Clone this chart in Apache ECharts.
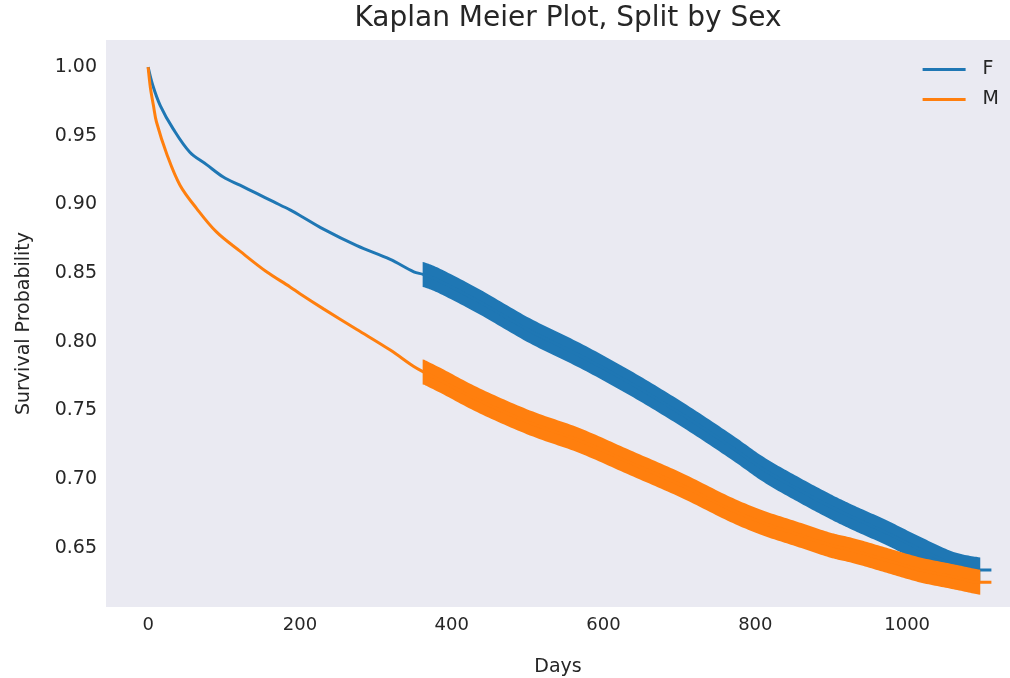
<!DOCTYPE html>
<html>
<head>
<meta charset="utf-8">
<script src="https://cdn.jsdelivr.net/npm/echarts@6/dist/echarts.min.js"></script>
<style>html,body{margin:0;padding:0;background:#fff;}#chart{width:1010px;height:678px;}</style>
</head>
<body>
<div id="chart"></div>
<script>
const daysF = [0,6,16,33,55,77,99,121,143,165,187,200,231,275,319,350,363,385,437,503,569,635,701,767,811,855,899,929,973,1017,1061,1095,1111];
const survF = [1.0,0.987,0.972,0.955,0.938,0.929,0.920,0.914,0.908,0.902,0.896,0.892,0.882,0.870,0.860,0.851,0.849,0.844,0.829,0.808,0.790,0.770,0.748,0.724,0.707,0.693,0.680,0.672,0.661,0.649,0.638,0.634,0.634];
const daysM = [0,3,7,11,25,42,64,90,121,156,187,200,231,275,319,350,363,385,437,503,569,635,701,767,811,855,899,929,973,1017,1061,1095,1111];
const survM = [1.0,0.985,0.972,0.960,0.936,0.914,0.897,0.880,0.866,0.851,0.840,0.835,0.824,0.809,0.794,0.782,0.778,0.772,0.757,0.741,0.728,0.712,0.696,0.678,0.668,0.660,0.652,0.648,0.641,0.634,0.629,0.625,0.625];
const censorStart = 363;
const censorEnd = 1095;
const xTicks = [0,200,400,600,800,1000];
const yTicks = [0.65,0.70,0.75,0.80,0.85,0.90,0.95,1.00];
const seriesNames = ['F','M'];
const colors = ['#1f77b4','#ff7f0e'];

const pairs = (d, v) => d.map((x, i) => [x, v[i]]);
const bandPts = (d, v) => pairs(d, v).filter(p => p[0] >= censorStart && p[0] <= censorEnd);

// Catmull-Rom smoothing in pixel space for the band outline
function smoothPath(c) {
  const out = [];
  const n = c.length;
  for (let i = 0; i < n - 1; i++) {
    const p0 = c[Math.max(0, i - 1)], p1 = c[i], p2 = c[i + 1], p3 = c[Math.min(n - 1, i + 2)];
    const steps = 16;
    for (let s = 0; s < steps; s++) {
      const t = s / steps, t2 = t * t, t3 = t2 * t;
      const f = (a, b, cc, d) => 0.5 * ((2 * b) + (-a + cc) * t + (2 * a - 5 * b + 4 * cc - d) * t2 + (-a + 3 * b - 3 * cc + d) * t3);
      out.push([f(p0[0], p1[0], p2[0], p3[0]), f(p0[1], p1[1], p2[1], p3[1])]);
    }
  }
  out.push(c[n - 1]);
  return out;
}

function bandSeries(name, pts, color, z) {
  return {
    type: 'custom', name: name, silent: true, z: z,
    data: [[pts[0][0], pts[0][1]]],
    renderItem: function (params, api) {
      const half = 12.5;
      const c = smoothPath(pts.map(p => api.coord(p)));
      const top = c.map(q => [q[0], q[1] - half]);
      const bot = c.map(q => [q[0], q[1] + half]).reverse();
      top[0][0] -= 1; bot[bot.length - 1][0] -= 1;
      top[top.length - 1][0] += 1; bot[0][0] += 1;
      return { type: 'polygon', shape: { points: top.concat(bot) }, style: { fill: color } };
    }
  };
}

const FONT = 'DejaVu Sans';
const TXT = '#262626';
const chart = echarts.init(document.getElementById('chart'), null, { renderer: 'canvas' });
chart.setOption({
  animation: false,
  backgroundColor: '#ffffff',
  title: {
    text: 'Kaplan Meier Plot, Split by Sex',
    left: 563, top: 0, textAlign: 'center',
    textStyle: { fontFamily: FONT, fontSize: 28, fontWeight: 'normal', color: TXT }
  },
  legend: {
    data: seriesNames, orient: 'vertical', right: 6, top: 55,
    icon: 'rect', itemWidth: 43, itemHeight: 3, itemGap: 11,
    textStyle: { fontFamily: FONT, fontSize: 19, color: TXT, padding: [0, 0, 0, 12] }
  },
  grid: { left: 106, top: 40, right: 0, height: 567, show: true, backgroundColor: '#EAEAF2', borderWidth: 0,
    containLabel: false, outerBoundsMode: 'none' },
  xAxis: {
    type: 'value', min: -55.5, max: 1135.5,
    name: 'Days', nameLocation: 'middle', nameGap: 51,
    nameTextStyle: { fontFamily: FONT, fontSize: 19, color: TXT },
    axisLine: { show: false }, axisTick: { show: false }, splitLine: { show: false },
    axisLabel: { customValues: xTicks, fontFamily: FONT, fontSize: 18, color: TXT, margin: 9,
      formatter: v => String(v) }
  },
  yAxis: {
    type: 'value', min: 0.607, max: 1.0197,
    name: 'Survival Probability', nameLocation: 'middle', nameGap: 72, nameRotate: 90,
    nameTextStyle: { fontFamily: FONT, fontSize: 19, color: TXT },
    axisLine: { show: false }, axisTick: { show: false }, splitLine: { show: false },
    axisLabel: { customValues: yTicks, fontFamily: FONT, fontSize: 19, color: TXT, margin: 9,
      formatter: v => v.toFixed(2) }
  },
  series: [
    { type: 'line', name: 'F', data: pairs(daysF, survF), showSymbol: false, smooth: 0.35,
      lineStyle: { color: colors[0], width: 3 }, itemStyle: { color: colors[0] }, z: 2 },
    bandSeries('F censors', bandPts(daysF, survF), colors[0], 2),
    { type: 'line', name: 'M', data: pairs(daysM, survM), showSymbol: false, smooth: 0.35,
      lineStyle: { color: colors[1], width: 3 }, itemStyle: { color: colors[1] }, z: 3 },
    bandSeries('M censors', bandPts(daysM, survM), colors[1], 3)
  ]
});
</script>
</body>
</html>
